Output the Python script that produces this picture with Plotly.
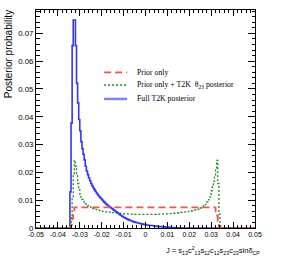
import plotly.graph_objects as go

# ---------------- data ----------------
X_MIN, X_MAX, BIN_W = -0.05, 0.05, 0.0005

# Full T2K posterior: consecutive bin contents starting at bin edge BLUE_START
BLUE_START = -0.0345
blue_vals = [0.013, 0.0377, 0.0656, 0.0748, 0.0748, 0.0656, 0.052, 0.045, 0.039, 0.035,
             0.031, 0.0285, 0.0265, 0.0245, 0.0222, 0.0205, 0.0192, 0.018, 0.017, 0.016,
             0.0152, 0.0145, 0.0138, 0.0132, 0.0126, 0.012, 0.0115, 0.011, 0.0106, 0.0102,
             0.0097, 0.0093, 0.0089, 0.0085, 0.0082, 0.0079, 0.0076, 0.0073, 0.0070, 0.0067,
             0.0064, 0.0061, 0.0058, 0.0055, 0.0052, 0.0049, 0.0046, 0.0043, 0.0041, 0.0038,
             0.0036, 0.0034, 0.0032, 0.0030, 0.0028, 0.0027, 0.0025, 0.0024, 0.0022, 0.0021,
             0.0020, 0.0019, 0.0018, 0.0017, 0.0016, 0.0015, 0.0014, 0.0013, 0.0012, 0.0012,
             0.0011, 0.0010, 0.0010, 0.0009, 0.0009, 0.0008, 0.0008, 0.0007, 0.0007, 0.0006,
             0.0006, 0.0005, 0.0005, 0.0005, 0.0004, 0.0004, 0.0004, 0.0003, 0.0003, 0.0003,
             0.0003, 0.0002, 0.0002, 0.0002, 0.0002, 0.0001, 0.0001, 0.0001, 0.0001, 0.0001,
             0.0001, 0.0001]

# Prior only + T2K theta23 posterior
GREEN_START = -0.0345
green_vals = [0.0008, 0.004, 0.011, 0.019, 0.0243, 0.0222, 0.0188, 0.0160, 0.0138, 0.0122,
              0.0111, 0.0103, 0.0096, 0.0091, 0.0087, 0.0083, 0.0080, 0.0078, 0.0076, 0.0074,
              0.0072, 0.0070, 0.0068, 0.0067, 0.0066, 0.0065, 0.0064, 0.0063, 0.0062, 0.0061,
              0.0060, 0.0060, 0.0059, 0.0058, 0.0058, 0.0057, 0.0057, 0.0056, 0.0056, 0.0055,
              0.0055, 0.0054, 0.0054, 0.0053, 0.0053, 0.0053, 0.0052, 0.0052, 0.0052, 0.0051,
              0.0051, 0.0051, 0.0051, 0.0050, 0.0050, 0.0050, 0.0050, 0.0050, 0.0050, 0.0049,
              0.0049, 0.0049, 0.0049, 0.0049, 0.0049, 0.0049, 0.0049, 0.0049, 0.0049, 0.0049,
              0.0049, 0.0049, 0.0049, 0.0049, 0.0049, 0.0049, 0.0049, 0.0049, 0.0049, 0.0050,
              0.0050, 0.0050, 0.0050, 0.0050, 0.0050, 0.0051, 0.0051, 0.0051, 0.0051, 0.0051,
              0.0051, 0.0052, 0.0052, 0.0052, 0.0053, 0.0053, 0.0053, 0.0054, 0.0054, 0.0055,
              0.0055, 0.0056, 0.0056, 0.0057, 0.0057, 0.0058, 0.0058, 0.0059, 0.0060, 0.0060,
              0.0061, 0.0062, 0.0063, 0.0064, 0.0065, 0.0066, 0.0067, 0.0068, 0.0070, 0.0072,
              0.0074, 0.0077, 0.0080, 0.0084, 0.0088, 0.0094, 0.0101, 0.0110, 0.0121, 0.0134,
              0.0150, 0.0168, 0.0190, 0.0216, 0.0243, 0.0160, 0.0050, 0.0008]

# Prior only: step starts and contents
red_x = [-0.05, -0.0345, -0.034, -0.0335, -0.033, -0.0325, 0.032, 0.0325, 0.033, 0.0335, 0.034]
red_y = [0.0, 0.0003, 0.0012, 0.0035, 0.0056, 0.0074, 0.0060, 0.0045, 0.0025, 0.0007, 0.0]

x_ticks = [-0.05, -0.04, -0.03, -0.02, -0.01, 0, 0.01, 0.02, 0.03, 0.04, 0.05]
x_ticktext = ["-0.05", "-0.04", "-0.03", "-0.02", "-0.01", "0", "0.01", "0.02", "0.03", "0.04", "0.05"]
y_ticks = [0, 0.01, 0.02, 0.03, 0.04, 0.05, 0.06, 0.07]
y_ticktext = ["0", "0.01", "0.02", "0.03", "0.04", "0.05", "0.06", "0.07"]

legend_names = ["Prior only", "Prior only + T2K  θ<sub>23</sub> posterior", "Full T2K posterior"]


def bins_to_steps(start, vals):
    xs = [X_MIN]
    ys = [0.0]
    for i, v in enumerate(vals):
        xs.append(start + i * BIN_W)
        ys.append(v)
    xs.append(start + len(vals) * BIN_W)
    ys.append(0.0)
    xs.append(X_MAX)
    ys.append(0.0)
    return xs, ys


RED = "#ff5050"
GREEN = "#1c8c1c"
BLUE = "#3434ff"

fig = go.Figure()
bx, by = bins_to_steps(BLUE_START, blue_vals)
gx, gy = bins_to_steps(GREEN_START, green_vals)
rx = red_x + [X_MAX]
ry = red_y + [red_y[-1]]

fig.add_trace(go.Scatter(x=bx, y=by, mode="lines", line=dict(color=BLUE, width=1.6, shape="hv"),
                         showlegend=False, hoverinfo="skip"))
fig.add_trace(go.Scatter(x=rx, y=ry, mode="lines",
                         line=dict(color=RED, width=1.8, shape="hv", dash="7px,4px"),
                         showlegend=False, hoverinfo="skip"))
fig.add_trace(go.Scatter(x=gx, y=gy, mode="lines",
                         line=dict(color=GREEN, width=1.3, shape="hv", dash="2px,2px"),
                         showlegend=False, hoverinfo="skip"))

axis_common = dict(showline=True, linecolor="black", linewidth=1, mirror="allticks",
                   ticks="inside", tickcolor="black", tickwidth=1, showgrid=False,
                   zeroline=False, automargin=False)

fig.update_xaxes(range=[X_MIN, X_MAX], tickvals=x_ticks, ticktext=x_ticktext, ticklen=6,
                 tickfont=dict(family="Liberation Sans", size=7, color="black"),
                 minor=dict(ticks="inside", ticklen=3, dtick=0.002, tickcolor="black", tickwidth=1),
                 **axis_common)
fig.update_yaxes(range=[0, 0.0784], tickvals=y_ticks, ticktext=y_ticktext, ticklen=7,
                 tickfont=dict(family="Liberation Sans", size=7.8, color="black"),
                 minor=dict(ticks="inside", ticklen=3.5, dtick=0.002, tickcolor="black", tickwidth=1),
                 **axis_common)

# legend drawn in the ROOT style
leg_y = [0.714, 0.656, 0.592]
leg_styles = [dict(color=RED, width=1.8, dash="7px,4px"),
              dict(color=GREEN, width=1.3, dash="2px,2px"),
              dict(color="#8080ff", width=2.5, dash="solid")]
for name, yy, st in zip(legend_names, leg_y, leg_styles):
    fig.add_shape(type="line", xref="paper", yref="paper", x0=0.311, x1=0.416, y0=yy, y1=yy,
                  line=st)
    fig.add_annotation(xref="paper", yref="paper", x=0.452, y=yy, xanchor="left", yanchor="middle",
                       text=name, showarrow=False,
                       font=dict(family="Liberation Serif", size=7.8, color="black"))

fig.add_annotation(xref="paper", yref="paper", x=-0.126, y=1.01, xanchor="center", yanchor="top",
                   text="Posterior probability", textangle=-90, showarrow=False,
                   font=dict(family="Liberation Sans", size=10, color="black"))
fig.add_annotation(xref="paper", yref="paper", x=1.03, y=-0.105, xanchor="right", yanchor="middle",
                   text="J = s<sub>13</sub>c<sup>2</sup><sub>13</sub>s<sub>12</sub>c<sub>12</sub>s<sub>23</sub>c<sub>23</sub>sinδ<sub>CP</sub>",
                   showarrow=False,
                   font=dict(family="Liberation Sans", size=7.5, color="black"))

fig.update_layout(width=284, height=256, margin=dict(l=36, r=29, t=10, b=28),
                  paper_bgcolor="white", plot_bgcolor="white", showlegend=False)

fig.write_html("out.html", config={"displayModeBar": False},
               post_script="document.body.style.margin='0px';")
